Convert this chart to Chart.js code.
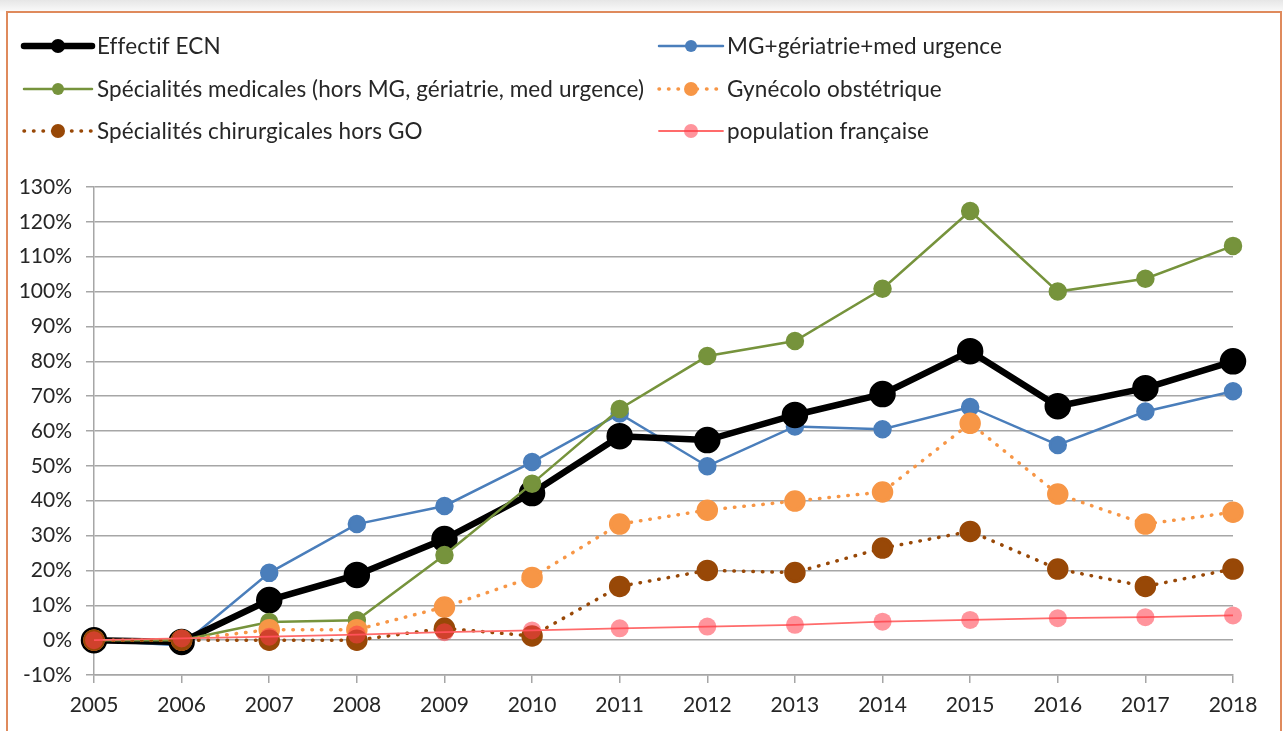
<!DOCTYPE html>
<html>
<head>
<meta charset="utf-8">
<script src="https://cdn.jsdelivr.net/npm/chart.js@4.4.1/dist/chart.umd.min.js"></script>
<style>
  html, body { margin: 0; padding: 0; }
  body {
    width: 1283px;
    height: 731px;
    overflow: hidden;
    position: relative;
    background: linear-gradient(#e6e6e6 0px, #f7f7f7 10px, #ffffff 12px);
  }
  #frame {
    position: absolute;
    left: 6px;
    top: 11px;
    width: 1272px;
    height: 740px;
    border: 2px solid #df8a5c;
    background: #fff;
  }
  #chart {
    position: absolute;
    left: 0;
    top: 0;
  }
</style>
</head>
<body>
<div id="frame"></div>
<canvas id="chart" width="1283" height="731"></canvas>
<script>
const years = ['2005', '2006', '2007', '2008', '2009', '2010', '2011', '2012', '2013', '2014', '2015', '2016', '2017', '2018'];

const effectifEcn = [0, -0.5, 11.5, 18.7, 29, 42.2, 58.5, 57.4, 64.6, 70.6, 82.9, 67.1, 72.3, 80];
const mgGeriatrieUrgence = [0, -1.5, 19.3, 33.3, 38.5, 51.1, 65, 49.9, 61.3, 60.5, 66.9, 56, 65.6, 71.4];
const specMedicales = [0, 0, 5.2, 5.7, 24.4, 44.9, 66.3, 81.5, 85.8, 100.8, 123.1, 100, 103.7, 113.1];
const gynecoObst = [0, 0, 3, 3, 9.5, 18, 33.3, 37.3, 39.9, 42.5, 62.2, 41.9, 33.3, 36.7];
const specChir = [0, 0, 0, 0, 3.4, 1.2, 15.4, 20, 19.4, 26.4, 31.2, 20.4, 15.4, 20.4];
const populationFr = [0, 0.5, 1, 1.6, 2.3, 2.8, 3.4, 3.9, 4.4, 5.3, 5.8, 6.3, 6.6, 7.1];

const yTicks = { min: -10, max: 130, step: 10 };

const legendRows = [46, 89, 131];
const fontName = "Lato, 'Liberation Sans', sans-serif";

// legende sur deux colonnes, comme dans Excel
const twoColLegend = {
  id: 'twoColLegend',
  afterDraw(chart) {
    const ctx = chart.ctx;
    chart.data.datasets.forEach((ds, i) => {
      const col = i % 2;
      const row = Math.floor(i / 2);
      const x0 = col === 0 ? 24 : 659;
      const x1 = col === 0 ? 92 : 723;
      const y = legendRows[row];
      ctx.save();
      ctx.strokeStyle = ds.borderColor;
      ctx.lineWidth = ds.borderWidth;
      ctx.lineCap = 'round';
      ctx.setLineDash(ds.borderDash || []);
      ctx.beginPath();
      ctx.moveTo(x0, y);
      ctx.lineTo(x1, y);
      ctx.stroke();
      ctx.setLineDash([]);
      ctx.fillStyle = ds.pointBackgroundColor;
      ctx.beginPath();
      ctx.arc((x0 + x1) / 2, y, ds.legendDot, 0, Math.PI * 2);
      ctx.fill();
      ctx.fillStyle = '#262626';
      ctx.font = '22.5px ' + fontName;
      ctx.letterSpacing = '0.1px';
      ctx.textBaseline = 'middle';
      ctx.fillText(ds.label, col === 0 ? 97 : 727, y + 1);
      ctx.restore();
    });
  }
};

new Chart(document.getElementById('chart'), {
  type: 'line',
  data: {
    labels: years,
    datasets: [{
      label: 'Effectif ECN',
      data: effectifEcn,
      borderColor: '#000000',
      backgroundColor: '#000000',
      pointBackgroundColor: '#000000',
      pointBorderColor: '#000000',
      borderWidth: 6.5,
      pointRadius: 10,
      legendDot: 7,
      order: 4
    }, {
      label: 'MG+gériatrie+med urgence',
      data: mgGeriatrieUrgence,
      borderColor: '#4a7ebb',
      backgroundColor: '#4a7ebb',
      pointBackgroundColor: '#4a7ebb',
      pointBorderColor: '#4a7ebb',
      borderWidth: 2.5,
      pointRadius: 8,
      legendDot: 6,
      order: 5
    }, {
      label: 'Spécialités medicales (hors MG, gériatrie, med urgence)',
      data: specMedicales,
      borderColor: '#76933c',
      backgroundColor: '#76933c',
      pointBackgroundColor: '#76933c',
      pointBorderColor: '#76933c',
      borderWidth: 2.5,
      pointRadius: 8,
      legendDot: 6,
      order: 3
    }, {
      label: 'Gynécolo obstétrique',
      data: gynecoObst,
      borderColor: '#f79646',
      backgroundColor: '#f79646',
      pointBackgroundColor: '#f79646',
      pointBorderColor: '#f79646',
      borderWidth: 3.5,
      borderDash: [0.5, 9],
      borderCapStyle: 'round',
      pointRadius: 9,
      legendDot: 7,
      order: 2
    }, {
      label: 'Spécialités chirurgicales hors GO',
      data: specChir,
      borderColor: '#984807',
      backgroundColor: '#984807',
      pointBackgroundColor: '#984807',
      pointBorderColor: '#984807',
      borderWidth: 3.5,
      borderDash: [0.5, 9],
      borderCapStyle: 'round',
      pointRadius: 9,
      legendDot: 7,
      order: 1
    }, {
      label: 'population française',
      data: populationFr,
      borderColor: '#ff6b6b',
      backgroundColor: 'rgba(255, 60, 75, 0.55)',
      pointBackgroundColor: 'rgba(255, 60, 75, 0.55)',
      pointBorderColor: 'rgba(255, 60, 75, 0)',
      borderWidth: 1.8,
      pointRadius: 9,
      legendDot: 7,
      order: 0
    }]
  },
  options: {
    responsive: false,
    animation: false,
    layout: {
      padding: { left: 0, top: 187, right: 50, bottom: 0 }
    },
    plugins: {
      legend: { display: false },
      tooltip: { enabled: false }
    },
    elements: {
      line: { tension: 0 },
      point: { borderWidth: 0 }
    },
    scales: {
      x: {
        offset: false,
        afterFit: (scale) => { scale.height = 56; },
        grid: {
          drawOnChartArea: false,
          drawTicks: true,
          tickLength: 8,
          color: '#a6a6a6',
          lineWidth: 1.5
        },
        border: { display: true, color: '#a6a6a6', width: 1.5 },
        ticks: {
          color: '#262626',
          padding: 10,
          maxRotation: 0,
          font: { family: fontName, size: 21 }
        }
      },
      y: {
        min: yTicks.min,
        max: yTicks.max,
        afterFit: (scale) => { scale.width = 94; },
        grid: {
          color: '#a6a6a6',
          lineWidth: 1.5,
          tickLength: 8
        },
        border: { display: true, color: '#a6a6a6', width: 1.5 },
        ticks: {
          stepSize: yTicks.step,
          color: '#262626',
          padding: 14,
          font: { family: fontName, size: 21 },
          callback: (val) => val + '%'
        }
      }
    }
  },
  plugins: [twoColLegend]
});
</script>
</body>
</html>
